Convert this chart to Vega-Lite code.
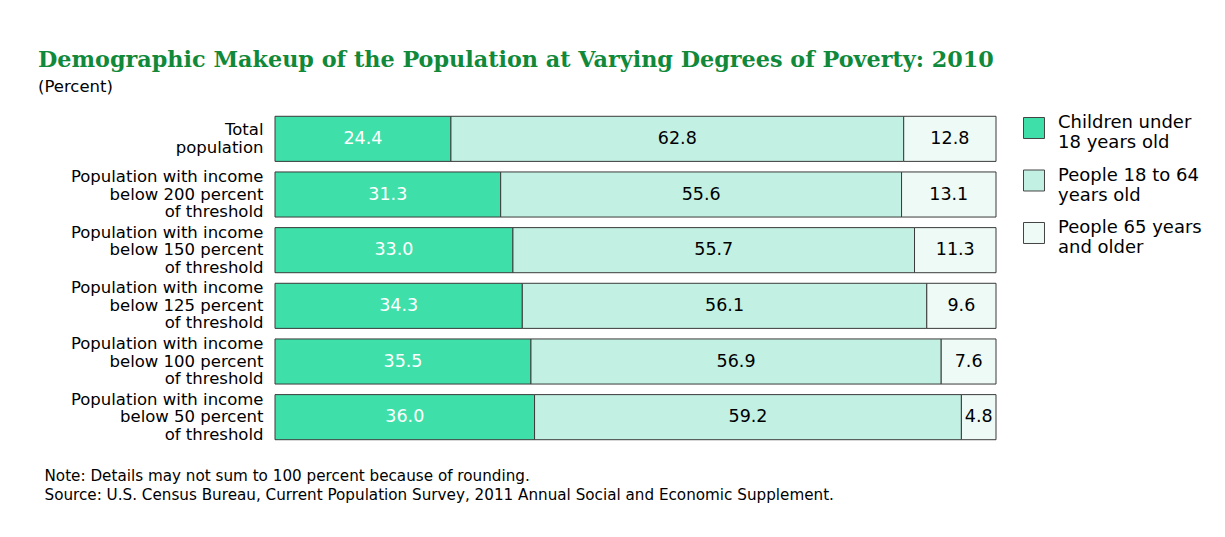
{
  "$schema": "https://vega.github.io/schema/vega-lite/v6.json",
  "width": 721,
  "height": 334,
  "autosize": "none",
  "padding": {"left": 275, "top": 111, "right": 229, "bottom": 92},
  "background": "white",
  "view": {"stroke": null},
  "title": {
    "text": "Demographic Makeup of the Population at Varying Degrees of Poverty: 2010",
    "subtitle": "(Percent)",
    "anchor": "start",
    "frame": "group",
    "dx": -237,
    "font": "DejaVu Serif",
    "fontSize": 22.3,
    "fontWeight": "bold",
    "color": "#11893a",
    "subtitleFont": "DejaVu Sans",
    "subtitleFontSize": 16.5,
    "subtitleColor": "#000000",
    "subtitlePadding": 7,
    "offset": 16
  },
  "data": {
    "values": [
      {"group": "Total|population", "order": 1, "age": "Children under|18 years old", "ai": 1, "pct": 24.4},
      {"group": "Total|population", "order": 1, "age": "People 18 to 64|years old", "ai": 2, "pct": 62.8},
      {"group": "Total|population", "order": 1, "age": "People 65 years|and older", "ai": 3, "pct": 12.8},
      {"group": "Population with income|below 200 percent|of threshold", "order": 2, "age": "Children under|18 years old", "ai": 1, "pct": 31.3},
      {"group": "Population with income|below 200 percent|of threshold", "order": 2, "age": "People 18 to 64|years old", "ai": 2, "pct": 55.6},
      {"group": "Population with income|below 200 percent|of threshold", "order": 2, "age": "People 65 years|and older", "ai": 3, "pct": 13.1},
      {"group": "Population with income|below 150 percent|of threshold", "order": 3, "age": "Children under|18 years old", "ai": 1, "pct": 33.0},
      {"group": "Population with income|below 150 percent|of threshold", "order": 3, "age": "People 18 to 64|years old", "ai": 2, "pct": 55.7},
      {"group": "Population with income|below 150 percent|of threshold", "order": 3, "age": "People 65 years|and older", "ai": 3, "pct": 11.3},
      {"group": "Population with income|below 125 percent|of threshold", "order": 4, "age": "Children under|18 years old", "ai": 1, "pct": 34.3},
      {"group": "Population with income|below 125 percent|of threshold", "order": 4, "age": "People 18 to 64|years old", "ai": 2, "pct": 56.1},
      {"group": "Population with income|below 125 percent|of threshold", "order": 4, "age": "People 65 years|and older", "ai": 3, "pct": 9.6},
      {"group": "Population with income|below 100 percent|of threshold", "order": 5, "age": "Children under|18 years old", "ai": 1, "pct": 35.5},
      {"group": "Population with income|below 100 percent|of threshold", "order": 5, "age": "People 18 to 64|years old", "ai": 2, "pct": 56.9},
      {"group": "Population with income|below 100 percent|of threshold", "order": 5, "age": "People 65 years|and older", "ai": 3, "pct": 7.6},
      {"group": "Population with income|below 50 percent|of threshold", "order": 6, "age": "Children under|18 years old", "ai": 1, "pct": 36.0},
      {"group": "Population with income|below 50 percent|of threshold", "order": 6, "age": "People 18 to 64|years old", "ai": 2, "pct": 59.2},
      {"group": "Population with income|below 50 percent|of threshold", "order": 6, "age": "People 65 years|and older", "ai": 3, "pct": 4.8}
    ]
  },
  "encoding": {
    "y": {
      "field": "group",
      "type": "nominal",
      "sort": {"field": "order", "op": "min"},
      "scale": {"paddingInner": 0.19, "paddingOuter": 0.095},
      "axis": {
        "title": null,
        "domain": false,
        "ticks": false,
        "labelExpr": "split(datum.value, '|')",
        "labelFont": "DejaVu Sans",
        "labelFontSize": 16.5,
        "labelColor": "#000000",
        "labelLineHeight": 17.5,
        "labelPadding": 12,
        "labelLimit": 300,
        "labelOffset": {"condition": {"test": "indexof(datum.value, 'Total') == 0", "value": -8.75}, "value": -17.5}
      }
    },
    "x": {
      "field": "pct",
      "type": "quantitative",
      "stack": "zero",
      "scale": {"domain": [0, 100], "nice": false, "zero": true},
      "axis": {
        "domain": false,
        "ticks": false,
        "labels": false,
        "grid": false,
        "title": [
          "Note:  Details may not sum to 100 percent because of rounding.",
          "Source: U.S. Census Bureau, Current Population Survey, 2011 Annual Social and Economic Supplement."
        ],
        "titleFont": "DejaVu Sans",
        "titleFontSize": 15.2,
        "titleFontWeight": "normal",
        "titleColor": "#000000",
        "titleAnchor": "start",
        "titleAlign": "left",
        "titleBaseline": "top",
        "titleLineHeight": 19,
        "titleX": -231,
        "titleY": 23
      }
    },
    "order": {"field": "ai", "type": "quantitative"}
  },
  "layer": [
    {
      "mark": {"type": "bar", "stroke": "#3a3a3a", "strokeWidth": 1},
      "encoding": {
        "color": {
          "field": "age",
          "type": "nominal",
          "sort": {"field": "ai", "op": "min"},
          "scale": {"range": ["#3fdfaa", "#c2f0e2", "#eefaf5"]},
          "legend": {
            "title": null,
            "orient": "none",
            "legendX": 748,
            "legendY": 6,
            "padding": 0,
            "symbolType": "square",
            "symbolSize": 440,
            "symbolStrokeColor": "#444444",
            "symbolStrokeWidth": 1,
            "symbolOpacity": 1,
            "labelExpr": "split(datum.value, '|')",
            "labelFont": "DejaVu Sans",
            "labelFontSize": 18,
            "labelColor": "#000000",
            "labelLineHeight": 18,
            "labelBaseline": "alphabetic",
            "labelOffset": 13,
            "labelLimit": 200,
            "rowPadding": 14.5
          }
        }
      }
    },
    {
      "mark": {"type": "text", "font": "DejaVu Sans", "fontSize": 17.5, "baseline": "middle", "align": "center"},
      "encoding": {
        "x": {"field": "pct", "type": "quantitative", "stack": "zero", "bandPosition": 0.5},
        "text": {"field": "pct", "type": "quantitative", "format": ".1f"},
        "color": {
          "condition": {"test": "datum.ai == 1", "value": "#ffffff"},
          "value": "#000000"
        }
      }
    }
  ]
}
